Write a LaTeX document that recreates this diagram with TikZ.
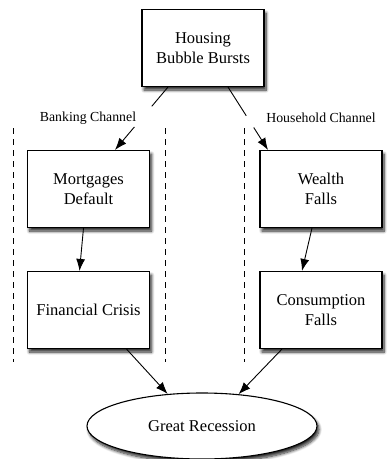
\documentclass[tikz,border=0pt]{standalone}
\usepackage{fontspec}
\setmainfont{Liberation Serif}
\usetikzlibrary{shapes.geometric,shadows.blur,arrows.meta}

\tikzset{
  box/.style={draw, line width=1.1pt, fill=white, minimum width=122pt, minimum height=77pt,
    align=center, font=\fontsize{16.5}{20}\selectfont,
    blur shadow={shadow xshift=2pt, shadow yshift=-3.5pt, shadow blur steps=8, shadow opacity=85, shadow blur radius=3pt}},
  oval/.style={draw, line width=1.1pt, fill=white, ellipse, minimum width=230pt, minimum height=66pt,
    font=\fontsize{16.5}{20}\selectfont,
    blur shadow={shadow xshift=2pt, shadow yshift=-3.5pt, shadow blur steps=8, shadow opacity=85, shadow blur radius=3pt}},
  chan/.style={font=\fontsize{13.8}{16}\selectfont},
  gap/.style={fill=white, circle, inner sep=0pt, minimum size=#1},
  arr/.style={-{Latex[length=12pt,width=9pt]}, line width=0.9pt},
  divider/.style={dash pattern=on 6pt off 5pt, line width=0.8pt}
}

\begin{document}
\begin{tikzpicture}[x=1pt, y=-1pt]
\useasboundingbox (0,0) rectangle (390,459);

\node[box] (bubble) at (203,48) {Housing\\Bubble Bursts};
\node[box] (mort) at (88.5,189) {Mortgages\\Default};
\node[box] (wealth) at (321,189) {Wealth\\Falls};
\node[box] (fin) at (88.5,310) {Financial Crisis};
\node[box] (cons) at (321,310) {Consumption\\Falls};
\node[oval] (rec) at (202,426) {Great Recession};

% dividers
\draw[divider] (13,128) -- (13,362);
\draw[divider] (165,128) -- (165,362);
\draw[divider] (244,128) -- (244,362);

\draw[arr] ([xshift=-35pt]bubble.south) -- node[gap=27pt, pos=0.47] (bgap) {} ([xshift=26.5pt]mort.north);
\draw[arr] ([xshift=25pt]bubble.south) -- node[gap=14pt, pos=0.55] (hgap) {} ([xshift=-53pt]wealth.north);

\draw[arr] ([xshift=-5pt]mort.south) -- ([xshift=-9pt]fin.north);
\draw[arr] ([xshift=-9pt]wealth.south) -- ([xshift=-19pt]cons.north);

\draw[arr] ([xshift=38pt]fin.south) -- (rec.137);
\draw[arr] ([xshift=-39pt]cons.south) -- (rec.41);

% channel labels
\node[chan] (bank) at (88,118) {Banking Channel};
\node[chan] (house) at (321,118) {Household Channel};
\end{tikzpicture}
\end{document}
